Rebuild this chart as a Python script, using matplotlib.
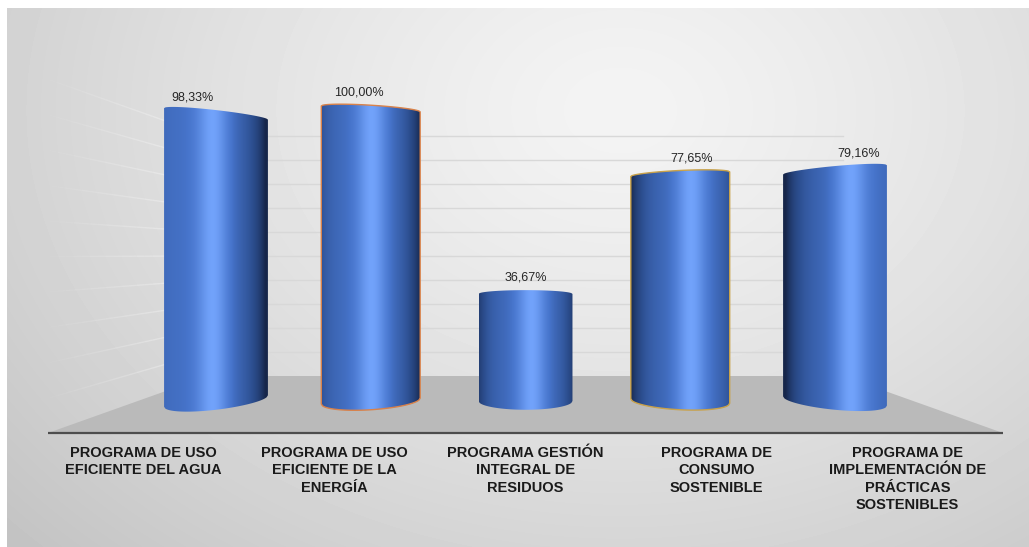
import numpy as np
import matplotlib.pyplot as plt
from matplotlib.patches import Polygon
from matplotlib.collections import LineCollection
from matplotlib.colors import LinearSegmentedColormap

plt.rcParams['font.family'] = ['Liberation Sans', 'DejaVu Sans']

# Data
categories = [
    "PROGRAMA DE USO\nEFICIENTE DEL AGUA",
    "PROGRAMA DE USO\nEFICIENTE DE LA\nENERGÍA",
    "PROGRAMA GESTIÓN\nINTEGRAL DE\nRESIDUOS",
    "PROGRAMA DE\nCONSUMO\nSOSTENIBLE",
    "PROGRAMA DE\nIMPLEMENTACIÓN DE\nPRÁCTICAS\nSOSTENIBLES",
]
values = [98.33, 100.00, 36.67, 77.65, 79.16]
value_labels = ["98,33%", "100,00%", "36,67%", "77,65%", "79,16%"]
grid_ticks = list(range(0, 101, 10))

# per-bar outline colours (only bars 2 and 4 have a thin coloured rim)
edge_colors = [None, '#d9824a', None, '#c9a24a', None]

W, H = 1029, 547
fig = plt.figure(figsize=(W / 100, H / 100), dpi=100)
fig.patch.set_facecolor('white')

# grey gradient panel behind everything
bg = fig.add_axes([7 / W, 0, (W - 7) / W, (H - 8) / H])
bg.axis('off')
yy, xx = np.mgrid[0:H - 8, 0:W - 7]
r = np.sqrt(((xx + 7 - 620) / 620.0) ** 2 + ((yy + 8 - 110) / 470.0) ** 2)
shade = np.clip(0.955 - 0.13 * r ** 1.3, 0, 1)
bg.imshow(shade, cmap='gray', vmin=0, vmax=1, aspect='auto',
          extent=(0, 1, 0, 1), interpolation='bilinear')
bg.set_xlim(0, 1)
bg.set_ylim(0, 1)

# plot area (front edge of the floor is the bottom of the axes)
L, R, T, B = 48, 1003, 20, 433
ax = fig.add_axes([L / W, 1 - B / H, (R - L) / W, (B - T) / H])
ax.set_facecolor('none')
ax.axis('off')


def to_ax(xp, yp):
    return ((xp - L) / (R - L), (B - yp) / (B - T))


# back wall gridlines
back_l, back_r, back_y0, back_step = 208, 843, 376, 2.4
for t in grid_ticks[1:]:
    yb = back_y0 - back_step * t
    (x0, y0), (x1, y1) = to_ax(back_l, yb), to_ax(back_r, yb)
    ax.plot([x0, x1], [y0, y1], color='#d8d8d8', lw=1, transform=ax.transAxes, zorder=1)

# side wall gridlines, fading toward the front
for t in grid_ticks[1:]:
    yf = B - 3.53 * t
    yb = back_y0 - back_step * t
    n = 20
    xs = np.linspace(L + 2, back_l, n + 1)
    ys = np.linspace(yf, yb, n + 1)
    pts = np.array([to_ax(a, b) for a, b in zip(xs, ys)])
    segs = [pts[k:k + 2] for k in range(n)]
    alphas = np.linspace(0.03, 0.4, n)
    cols = [(1, 1, 1, a) for a in alphas]
    ax.add_collection(LineCollection(segs, colors=cols, lw=1, transform=ax.transAxes, zorder=1))

# floor
floor = Polygon([to_ax(L, B), to_ax(R, B), to_ax(back_r, back_y0), to_ax(back_l, back_y0)],
                closed=True, facecolor='#bababa', edgecolor='none',
                transform=ax.transAxes, zorder=1.5)
ax.add_patch(floor)
ax.plot([0, 1], [0, 0], color='#4d4d4d', lw=1.6, transform=ax.transAxes,
        zorder=2, clip_on=False, solid_capstyle='butt')

# cylinders
cyl_cmap = LinearSegmentedColormap.from_list(
    'cyl', [(0.0, '#16264a'), (0.35, '#2c4e8f'), (0.62, '#4775cc'), (1.0, '#72a3fb')])
ht, hb = 1.3, 3.0
n_bars = len(values)
mid_i = (n_bars - 1) / 2
for i, v in enumerate(values):
    k = i - mid_i
    w = 0.607 + 0.032 * abs(k)
    p = 0.02 * k
    s = np.linspace(-1, 1, 81)
    x = i + s * w / 2
    top = v + ht * np.sqrt(1 - s ** 2)
    bot = -hb * np.sqrt(1 - s ** 2)
    scale = 1 + p * s
    mid = v / 2
    top = mid + (top - mid) * scale
    bot = mid + (bot - mid) * scale
    poly = np.vstack([np.column_stack([x, top]), np.column_stack([x[::-1], bot[::-1]])])
    ec = edge_colors[i]
    patch = Polygon(poly, closed=True, facecolor='none',
                    edgecolor=ec if ec else 'none', lw=1.0, zorder=4)
    ax.add_patch(patch)

    # horizontal shading across the cylinder
    u = np.linspace(0, 1, 300)
    h = 0.47 + 0.07 * (k + 2) * 0.65
    a_l = 0.3 + 0.13 * k
    a_r = 0.3 - 0.13 * k
    prof = 0.6 + 0.4 * np.exp(-((u - h) / 0.15) ** 2)
    prof -= a_l * np.exp(-u / 0.1) + a_r * np.exp(-(1 - u) / 0.1)
    prof -= 0.3 * a_r * np.clip((u - h) / (1 - h), 0, 1)
    prof -= 0.3 * a_l * np.clip((h - u) / h, 0, 1)
    prof = np.clip(prof, 0, 1)
    img = ax.imshow(prof[None, :], cmap=cyl_cmap, vmin=0, vmax=1, aspect='auto',
                    extent=(x[0], x[-1], bot.min() - 1, top.max() + 1),
                    interpolation='bilinear', zorder=3)
    img.set_clip_path(patch)

    ax.text(i + 0.076 * k, v + 5.5, value_labels[i], ha='center', va='center',
            fontsize=9, color='#262626', zorder=5)

ax.set_xlim((L - 216) / 154.75, (R - 216) / 154.75)
ax.set_ylim(-(B - 401) / 2.92, (401 - T) / 2.92)

# category labels along the front edge
_, y_lab = to_ax(0, 446)
for i, cat in enumerate(categories):
    ax.text((i + 0.5) / n_bars, y_lab, cat, transform=ax.transAxes, ha='center',
            va='top', fontsize=10.5, fontweight='bold', color='#1a1a1a',
            linespacing=1.3, clip_on=False)

fig.savefig('out.png', dpi=100)
